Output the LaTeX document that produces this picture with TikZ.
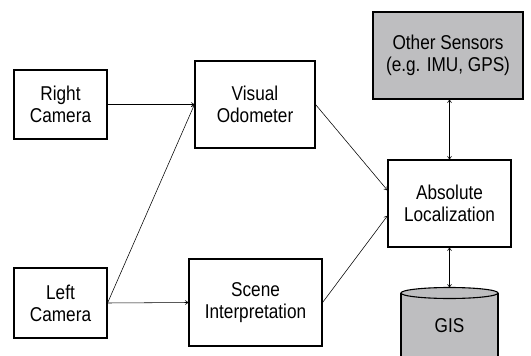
\documentclass[tikz,border=0pt]{standalone}
\usepackage{fontspec}
\setmainfont{Liberation Sans}[FakeStretch=0.86]
\usetikzlibrary{arrows.meta,calc}
\definecolor{boxgray}{RGB}{190,190,192}
\tikzset{
  blk/.style={draw, line width=1.1pt, inner sep=0pt, align=center,
    font=\fontsize{20}{22}\selectfont},
  conn/.style={line width=0.55pt, -{To[length=3.5pt,width=4.5pt]}},
  biconn/.style={line width=0.55pt, {To[length=3.5pt,width=4.5pt]}-{To[length=3.5pt,width=4.5pt]}}
}
\begin{document}
\begin{tikzpicture}[x=1pt,y=-1pt]
\useasboundingbox (0,0) rectangle (531,356);
\node[blk, minimum width=93pt, minimum height=69pt] (RC) at (60.5,104.5) {Right\\Camera};
\node[blk, minimum width=93pt, minimum height=70pt] (LC) at (60.5,303) {Left\\Camera};
\node[blk, minimum width=120pt, minimum height=87pt] (VO) at (255,104.5) {Visual\\Odometer};
\node[blk, minimum width=133pt, minimum height=87pt] (SI) at (255.5,302.5) {Scene\\Interpretation};
\node[blk, fill=boxgray, minimum width=150pt, minimum height=87pt] (OS) at (448,55.5) {Other Sensors\\(e.g. IMU, GPS)};
\node[blk, minimum width=123pt, minimum height=87pt] (AL) at (449.5,203.5) {Absolute\\Localization};
% GIS cylinder
\begin{scope}
\clip (0,0) rectangle (531,356);
\fill[boxgray] (401,293) -- (401,370) -- (498,370) -- (498,293) -- cycle;
\draw[line width=1.1pt] (401,293) -- (401,370) (498,293) -- (498,370);
\draw[line width=1.1pt, fill=boxgray] (449.5,293) ellipse [x radius=48.5, y radius=5.5];
\end{scope}
\coordinate (GIStop) at (449.5,287.5);
\node[font=\fontsize{20}{22}\selectfont, inner sep=0pt] (GIS) at (449.5,326) {GIS};
% connectors
\draw[conn] (RC.east) -- (VO.west);
\draw[conn] (LC.east) -- (VO.west);
\draw[conn] (LC.east) -- (SI.west);
\draw[conn] (VO.east) -- ($(AL.north west)!0.35!(AL.south west)$);
\draw[conn] (SI.east) -- ($(AL.north west)!0.64!(AL.south west)$);
\draw[biconn] (AL.north |- OS.south) -- (AL.north);
\draw[biconn] (AL.south) -- (GIStop);
\end{tikzpicture}
\end{document}
